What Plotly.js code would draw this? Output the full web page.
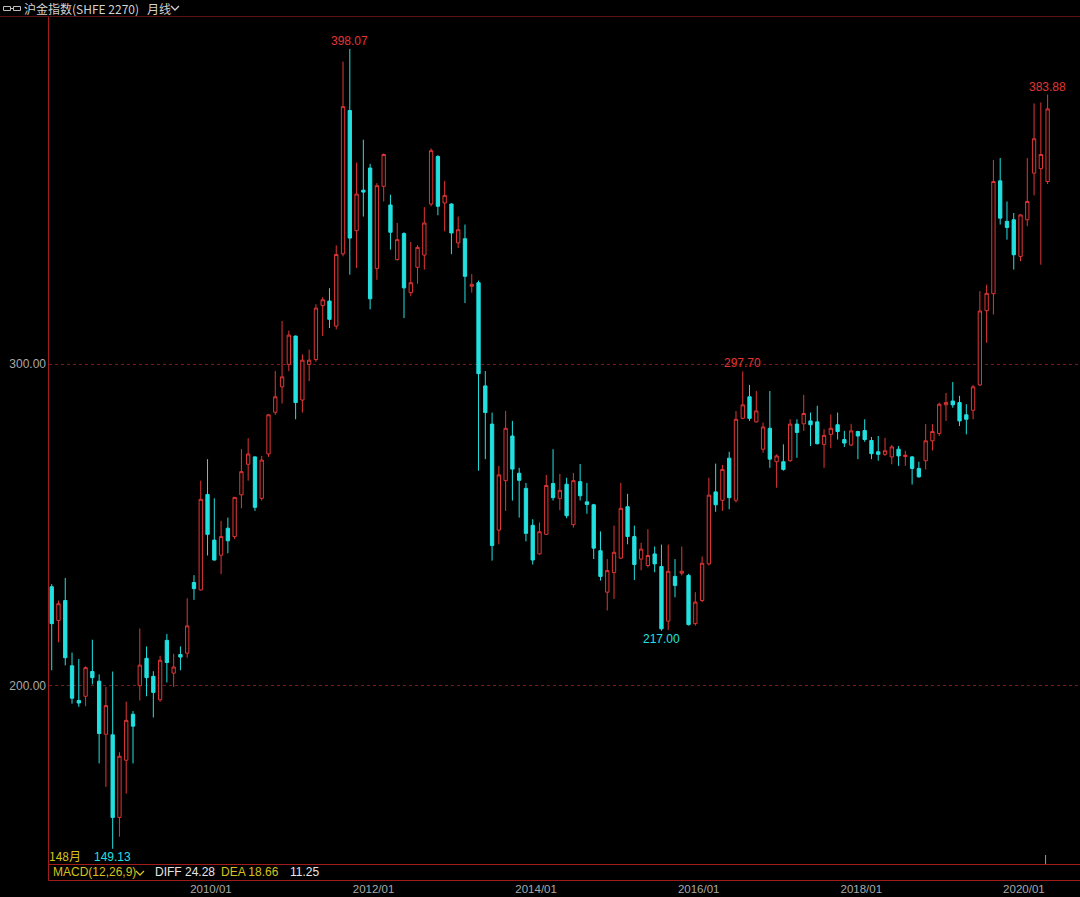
<!DOCTYPE html>
<html>
<head>
<meta charset="utf-8">
<script src="https://cdn.plot.ly/plotly-3.0.1.min.js"></script>
<style>
  html, body { margin: 0; padding: 0; background: #000; }
  #chart { width: 1080px; height: 897px; }
</style>
</head>
<body>
<div id="chart"></div>
<script>
// Monthly K-line of the SHFE gold index (沪金指数), Jan 2008 – Apr 2020
const barCount = 148;
const months = [];
for (let k = 0; k < barCount; k++) {
  const y = 2008 + Math.floor(k / 12);
  const m = (k % 12) + 1;
  months.push(y + '/' + String(m).padStart(2, '0'));
}

const open = [
  230.7, 220.2, 226.4, 206.1, 195.3, 196.6, 204.3, 201.3, 184.8, 184.6,
  158.9, 176.7, 191.0, 199.9, 208.4, 202.8, 195.5, 214.0, 203.8, 209.6,
  210.0, 232.0, 229.7, 259.4, 245.2, 240.5, 248.9, 246.3, 259.3, 268.8,
  271.1, 258.2, 272.0, 285.0, 292.9, 299.9, 308.7, 288.8, 299.9, 301.4,
  318.2, 319.6, 311.8, 334.3, 378.9, 341.5, 354.1, 361.0, 329.7, 355.3,
  349.5, 332.5, 340.6, 322.2, 330.1, 333.9, 349.8, 364.6, 350.1, 349.8,
  337.7, 339.0, 324.2, 325.3, 293.2, 281.3, 248.3, 263.7, 277.6, 266.0,
  261.3, 249.8, 240.9, 247.0, 262.8, 258.2, 262.6, 250.0, 263.4, 257.1,
  256.2, 241.9, 229.0, 235.1, 239.6, 255.6, 246.3, 239.3, 237.3, 240.9,
  237.0, 220.0, 233.9, 234.9, 234.2, 219.2, 226.4, 237.8, 260.2, 257.6,
  270.7, 257.6, 283.1, 289.8, 282.0, 273.5, 280.0, 269.6, 269.6, 269.9,
  281.3, 281.4, 282.3, 282.0, 275.0, 278.1, 281.1, 276.5, 274.8, 279.0,
  279.3, 276.2, 272.7, 271.9, 271.1, 273.5, 271.2, 271.1, 267.5, 269.9,
  276.1, 278.4, 287.3, 288.5, 288.0, 284.2, 285.6, 293.5, 316.6, 321.9,
  357.0, 344.4, 344.9, 333.5, 344.9, 359.4, 360.8, 356.8
];
const high = [
  231.5, 226.4, 233.4, 210.2, 208.2, 205.9, 214.2, 203.4, 199.5, 204.3,
  179.2, 194.9, 192.0, 217.7, 212.1, 204.4, 209.2, 216.0, 209.8, 212.1,
  227.1, 234.3, 263.7, 270.4, 258.2, 251.2, 252.2, 258.6, 273.5, 276.9,
  271.3, 271.4, 284.3, 297.8, 313.4, 310.4, 308.9, 303.0, 304.5, 318.6,
  320.8, 323.6, 336.9, 394.1, 398.07, 362.7, 369.8, 362.3, 356.3, 365.5,
  352.7, 343.9, 341.0, 338.0, 337.0, 348.8, 367.1, 365.0, 357.0, 350.0,
  345.9, 343.4, 328.0, 326.0, 297.8, 284.9, 268.3, 285.4, 282.3, 267.7,
  263.0, 251.7, 250.7, 265.5, 273.5, 265.8, 264.6, 266.1, 268.9, 263.0,
  256.5, 247.9, 239.3, 249.7, 263.0, 259.6, 249.7, 244.4, 248.6, 243.2,
  243.8, 243.8, 239.3, 243.2, 234.7, 229.0, 240.1, 264.6, 269.0, 268.6,
  272.7, 285.4, 297.70, 293.5, 291.6, 281.8, 291.6, 271.9, 275.0, 282.8,
  282.8, 290.4, 284.9, 287.0, 279.7, 284.3, 284.9, 279.2, 281.4, 279.2,
  282.8, 277.3, 277.6, 277.0, 274.8, 274.5, 273.0, 271.4, 269.6, 281.3,
  281.3, 288.0, 291.0, 294.4, 290.1, 287.5, 293.5, 322.7, 324.7, 363.5,
  364.1, 350.6, 347.0, 346.6, 364.1, 381.1, 381.4, 383.88
];
const low = [
  204.7, 213.4, 206.2, 194.3, 193.3, 193.5, 200.3, 175.7, 168.4, 149.13,
  152.9, 166.3, 175.7, 195.3, 196.6, 190.0, 194.9, 200.9, 199.5, 204.7,
  208.6, 226.6, 229.5, 240.4, 238.8, 234.6, 241.1, 245.5, 255.1, 263.7,
  254.3, 257.5, 271.1, 284.2, 287.7, 297.8, 282.8, 284.9, 294.7, 300.7,
  308.7, 311.2, 310.8, 333.5, 327.8, 329.9, 345.9, 317.0, 326.2, 350.6,
  335.6, 332.2, 314.3, 321.1, 325.0, 329.4, 349.1, 346.3, 341.3, 334.2,
  336.1, 319.0, 322.2, 266.8, 270.4, 238.8, 243.9, 254.3, 257.5, 252.2,
  244.8, 237.6, 240.7, 246.9, 257.5, 254.5, 252.0, 249.1, 257.5, 253.4,
  239.3, 232.6, 223.3, 226.9, 239.3, 243.9, 232.8, 235.8, 236.7, 235.2,
  217.00, 217.2, 227.4, 234.2, 218.6, 218.6, 225.9, 237.3, 254.0, 254.3,
  254.8, 256.9, 282.8, 282.3, 281.8, 272.4, 267.7, 261.5, 266.8, 269.6,
  270.8, 279.2, 274.5, 275.0, 267.7, 273.8, 276.5, 274.2, 274.5, 270.4,
  275.8, 270.4, 269.9, 271.4, 268.8, 268.3, 268.3, 262.5, 264.6, 267.2,
  273.1, 277.6, 282.3, 286.4, 280.7, 278.1, 282.8, 293.2, 306.6, 315.4,
  343.4, 338.7, 329.4, 332.0, 342.9, 352.5, 330.9, 356.0
];
const close = [
  219.2, 225.4, 208.6, 196.0, 194.5, 205.5, 202.4, 185.0, 193.7, 158.9,
  177.95, 189.1, 187.3, 206.3, 202.4, 197.8, 207.8, 207.1, 205.7, 208.8,
  218.5, 230.1, 257.9, 247.0, 239.0, 246.3, 245.0, 258.5, 266.5, 272.0,
  255.4, 270.1, 284.2, 289.8, 296.0, 309.0, 288.0, 301.2, 301.2, 317.4,
  320.0, 313.9, 334.1, 380.1, 339.2, 352.9, 353.5, 320.3, 355.5, 365.2,
  341.0, 338.7, 323.7, 325.3, 336.3, 343.9, 366.4, 349.1, 352.5, 340.8,
  341.8, 327.3, 324.8, 297.0, 284.9, 243.5, 265.5, 280.0, 267.3, 263.8,
  247.3, 239.0, 247.8, 262.2, 258.4, 260.7, 252.8, 263.7, 259.0, 256.3,
  242.7, 233.9, 235.7, 241.4, 255.1, 246.3, 237.6, 242.4, 240.4, 237.8,
  217.6, 235.5, 231.1, 235.5, 218.9, 225.9, 238.0, 259.2, 256.2, 267.2,
  258.4, 282.8, 287.3, 283.1, 285.4, 280.4, 270.4, 271.4, 267.2, 281.3,
  278.7, 284.6, 281.1, 275.2, 277.8, 280.0, 279.0, 275.4, 279.2, 277.6,
  276.5, 272.1, 271.9, 273.0, 274.2, 271.4, 271.6, 267.5, 264.9, 276.1,
  279.0, 287.5, 288.0, 287.3, 282.3, 282.8, 292.9, 316.5, 322.0, 356.8,
  345.4, 342.5, 334.0, 346.4, 350.6, 370.1, 365.2, 379.4
];

// axis ticks and marked extremes
const priceTicks = [200, 300];
const dateTickMonths = ['2010/01', '2012/01', '2014/01', '2016/01', '2018/01', '2020/01'];
const highMarkMonths = ['2011/09', '2016/07', '2020/04'];
const lowMarkMonths = ['2008/10', '2015/07'];

// MACD readout
const macdName = 'MACD(12,26,9)';
const macdDiff = 24.28;
const macdDea = 18.66;
const macdBar = 11.25;

// colours
const UP = '#e03636';
const DOWN = '#22e0e0';
const FRAME = '#a31c1c';
const GRID = '#7a1a1a';
const LABEL = '#a9a9a9';
const YELLOW = '#d6c21a';

// page geometry
const W = 1080, H = 897, ML = 49, MR = 0, MT = 17, MB = 33;
const PW = W - ML - MR, PH = H - MT - MB;
const px = x => (x - ML) / PW;
const py = y => (H - MB - y) / PH;

const xIdx = months.map((_, i) => i);
const idxOf = m => months.indexOf(m);

const trace = {
  type: 'candlestick',
  x: xIdx, open: open, high: high, low: low, close: close,
  increasing: { line: { color: UP, width: 1 }, fillcolor: '#000000' },
  decreasing: { line: { color: DOWN, width: 1 }, fillcolor: DOWN },
  whiskerwidth: 0,
  hoverinfo: 'skip',
  showlegend: false
};

const sans = 'Liberation Sans, Arial, sans-serif';
const cjk = '"Noto Sans CJK SC", sans-serif';
const numFont = { family: sans, size: 12 };

const annotations = [];
highMarkMonths.forEach(m => {
  const i = idxOf(m);
  annotations.push({
    xref: 'x', yref: 'y', x: i, y: high[i], text: high[i].toFixed(2),
    showarrow: false, xanchor: 'center', yanchor: 'bottom', yshift: -1,
    font: Object.assign({}, numFont, { color: UP })
  });
});
lowMarkMonths.forEach(m => {
  const i = idxOf(m);
  annotations.push({
    xref: 'x', yref: 'y', x: i, y: low[i], text: low[i].toFixed(2),
    showarrow: false, xanchor: 'center', yanchor: 'top', yshift: 1,
    font: Object.assign({}, numFont, { color: DOWN })
  });
});

function textAt(x, y, text, color, family, size) {
  annotations.push({
    xref: 'paper', yref: 'paper', x: px(x), y: py(y), text: text,
    showarrow: false, xanchor: 'left', yanchor: 'middle',
    font: { family: family, size: size, color: color }
  });
}

textAt(22, 8, '沪金指数(SHFE 2270)', '#d2d2d2', cjk, 12);
textAt(145, 8, '月线', '#d2d2d2', cjk, 12);
textAt(47, 855, barCount + '月', YELLOW, cjk, 12);
textAt(51, 872, macdName, YELLOW, sans, 12);
textAt(153, 872, 'DIFF ' + macdDiff.toFixed(2), '#e6e6e6', sans, 12);
textAt(219, 872, 'DEA ' + macdDea.toFixed(2), YELLOW, sans, 12);
textAt(288, 872, macdBar.toFixed(2), '#e6e6e6', sans, 12);

function hline(y, x0, x1, color) {
  return { type: 'line', xref: 'paper', yref: 'paper', x0: px(x0), x1: px(x1), y0: py(y), y1: py(y),
           line: { color: color, width: 1 } };
}
function vline(x, y0, y1, color) {
  return { type: 'line', xref: 'paper', yref: 'paper', x0: px(x), x1: px(x), y0: py(y0), y1: py(y1),
           line: { color: color, width: 1 } };
}
function chevron(x, y, color) {
  return { type: 'path', xref: 'paper', yref: 'paper',
           path: 'M ' + px(x) + ' ' + py(y - 2) + ' L ' + px(x + 4) + ' ' + py(y + 2) + ' L ' + px(x + 8) + ' ' + py(y - 2),
           line: { color: color, width: 1.3 } };
}
function rect(x0, y0, x1, y1, color) {
  return { type: 'rect', xref: 'paper', yref: 'paper', x0: px(x0), x1: px(x1), y0: py(y0), y1: py(y1),
           line: { color: color, width: 1 }, fillcolor: 'rgba(0,0,0,0)' };
}

const shapes = [
  hline(16.5, 0, W, '#5e1111'),
  vline(48.5, 17, 880.5, FRAME),
  hline(864.5, 48.5, W, FRAME),
  hline(880.5, 48.5, W, FRAME),
  // link icon in the title bar
  rect(3.5, 6.5, 10.5, 10.5, '#bdbdbd'),
  rect(13.5, 6.5, 20.5, 10.5, '#bdbdbd'),
  hline(8.5, 10.5, 13.5, '#bdbdbd'),
  chevron(171, 8, '#d2d2d2'),
  chevron(136, 873, YELLOW),
  // cursor tick at the latest bar
  { type: 'line', xref: 'x', yref: 'paper', x0: barCount - 1.3, x1: barCount - 1.3, y0: 0, y1: py(855),
    line: { color: '#9a9a9a', width: 1 } }
];

const layout = {
  width: W, height: H,
  paper_bgcolor: '#000000', plot_bgcolor: '#000000',
  margin: { l: ML, r: MR, t: MT, b: MB, pad: 0 },
  showlegend: false,
  xaxis: {
    type: 'linear', range: [-0.4, 151.78],
    rangeslider: { visible: false },
    showgrid: false, zeroline: false, showline: false, ticks: '',
    tickmode: 'array',
    tickvals: dateTickMonths.map(m => idxOf(m) - 0.5),
    ticktext: dateTickMonths,
    ticklabelstandoff: 16,
    tickfont: { family: sans, size: 11.5, color: LABEL }
  },
  yaxis: {
    range: [144.4, 408.0],
    showgrid: true, gridcolor: GRID, gridwidth: 1, griddash: '3px,3px',
    zeroline: false, showline: false, ticks: '',
    tickmode: 'array',
    tickvals: priceTicks,
    ticktext: priceTicks.map(v => v.toFixed(2)),
    ticklabelstandoff: 2,
    tickfont: { family: sans, size: 12, color: LABEL }
  },
  annotations: annotations,
  shapes: shapes
};

Plotly.newPlot('chart', [trace], layout, { staticPlot: true, displayModeBar: false });
</script>
</body>
</html>
